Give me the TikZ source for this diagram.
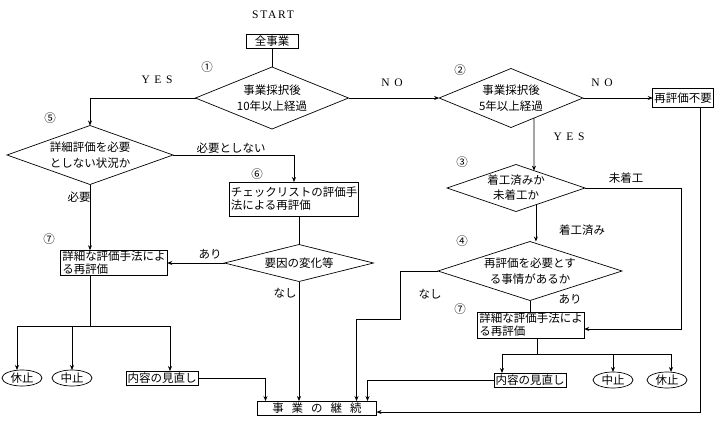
\documentclass[tikz,border=0pt]{standalone}
\usepackage{fontspec}
\setmainfont{Liberation Serif}
\newfontfamily\jp{Noto Sans CJK JP}
\newfontfamily\capsfont[LetterSpace=15]{Liberation Serif}
\newfontfamily\ynfont[LetterSpace=40]{Liberation Serif}
\newcommand\widegap{\spaceskip=8pt\relax}
\usetikzlibrary{shapes,positioning,arrows.meta}
\usetikzlibrary{calc}

\begin{document}
\begin{tikzpicture}[
        x=1pt, y=-1pt,
        line width=0.7pt,
        font=\jp\fontsize{11.5}{13}\selectfont,
        >={Stealth[length=5pt,width=4pt]},
        box/.style={rectangle, draw, inner xsep=1.5pt, inner ysep=1pt, outer sep=0pt, align=left},
        cond/.style={diamond, draw, inner sep=0pt, outer sep=0pt, aspect=3, align=center, font=\jp\fontsize{11.5}{16}\selectfont},
        halt/.style={ellipse, draw, inner sep=0pt, outer sep=0pt, minimum width=40pt, minimum height=16pt},
        yn/.style={font=\ynfont\fontsize{11.5}{13}\selectfont}
    ]
        \useasboundingbox (0,0) rectangle (721,424);

        \node[font=\capsfont\fontsize{11.5}{13}\selectfont] (start) at (273,15) {START};
        \node[box, minimum width=52pt, minimum height=14pt] (all) at (272,41) {全事業};

        \node[cond, minimum width=153pt, minimum height=62pt] (d1) at (272,98) {事業採択後\\10年以上経過};
        \node[cond, minimum width=143pt, minimum height=59pt] (d2) at (511,98) {事業採択後\\5年以上経過};
        \node[box, minimum height=19pt] (fuyo) at (683,98) {再評価不要};
        \node[cond, minimum width=138pt, minimum height=47pt, font=\jp\fontsize{11.5}{15}\selectfont] (d3) at (516,188) {着工済みか\\未着工か};
        \node[cond, minimum width=184pt, minimum height=59pt] (d4) at (530,271) {再評価を必要とす\\る事情があるか};
        \node[box, minimum height=26pt] (b7R) at (531,325) {詳細な評価手法によ\\る再評価};

        \node[cond, minimum width=166pt, minimum height=59pt] (d5) at (90,155) {詳細評価を必要\\としない状況か};
        \node[box, minimum height=34pt] (b6) at (294,199) {チェックリストの評価手\\法による再評価};
        \node[box, minimum height=25pt] (b7L) at (114,263) {詳細な評価手法によ\\る再評価};
        \node[cond, minimum width=149pt, minimum height=37pt] (d6) at (299,263) {要因の変化等};

        \node[halt] (kyuL) at (22,378) {休止};
        \node[halt] (chuL) at (72,378) {中止};
        \node[box, minimum height=14pt] (naiL) at (162,378) {内容の見直し};
        \node[box, minimum height=14pt] (naiR) at (530,380) {内容の見直し};
        \node[halt] (chuR) at (613,380) {中止};
        \node[halt] (kyuR) at (667,380) {休止};
        \node[box, minimum width=119pt, minimum height=14pt] (cont) at (317,408) {\widegap 事 業 の 継 続};

        \node (n1) at (207,67) {①};
        \node (n2) at (460,70) {②};
        \node (n3) at (462,162) {③};
        \node (n4) at (462,241) {④};
        \node (n5) at (50,118) {⑤};
        \node (n6) at (257,174) {⑥};
        \node (n7L) at (49,239) {⑦};
        \node (n7R) at (460,309) {⑦};

        \node[yn] (yes1) at (157,80) {YES};
        \node[yn] (no1) at (392,83) {NO};
        \node[yn] (no2) at (602,83) {NO};
        \node[yn] (yes2) at (569,137) {YES};
        \node (l1) at (231,148) {必要としない};
        \node (l2) at (79,197) {必要};
        \node (l3) at (210,254) {あり};
        \node (l4) at (285,293) {なし};
        \node (l5) at (626,178) {未着工};
        \node (l6) at (582,230) {着工済み};
        \node (l7) at (430,294) {なし};
        \node (l8) at (570,299) {あり};

        \draw (all) -- (d1);
        \draw[->] (d1.west) -| (d5.north);
        \draw[->] (d1.east) -- (d2.west);
        \draw[->] (d2.east) -- (fuyo.west);
        \draw[->] (d2.-41) -- (d3.44);
        \draw[->] (d3.-40) -- (d3.-40 |- d4.north);
        \draw[->] (d3.east) -- ++(96,0) |- ($(b7R.east)+(0,4)$);
        \draw (d4.south) -- (d4.south |- b7R.north);
        \draw[->] (d4.west) -- ++(-38,0) -- ++(0,48) -| ($(cont.north east)+(-20,0)$);
        \draw ($(b7R.south)+(6,0)$) -- ++(0,16) coordinate (j2);
        \draw[->] (j2) -| ($(naiR.north west)+(8,0)$);
        \draw[->] (j2) -| (chuR.north);
        \draw[->] (j2) -| ($(kyuR.north)+(4,0)$);
        \draw[->] (naiR.west) -| ($(cont.north east)+(-9,0)$);
        \draw[->] ($(fuyo.south east)+(-13,0)$) |- ($(cont.east)+(0,4)$);

        \draw[->] (d5.east) -| (b6.north);
        \draw[->] (d5.south) -- (d5.south |- b7L.north);
        \draw (d6.north |- b6.south) -- (d6.north);
        \draw[->] (d6.west) -- (d6.west -| b7L.east);
        \draw[->] (d6.south) -- (d6.south |- cont.north);
        \draw (b7L.south -| d5.south) -- ++(0,51) coordinate (j1);
        \draw[->] (j1) -| ($(kyuL.north)+(-5,0)$);
        \draw[->] (j1) -| (chuL.north);
        \draw[->] (j1) -| ($(naiL.north)+(8,0)$);
        \draw[->] (naiL.east) -| ($(cont.north west)+(8,0)$);
    \end{tikzpicture}
\end{document}
